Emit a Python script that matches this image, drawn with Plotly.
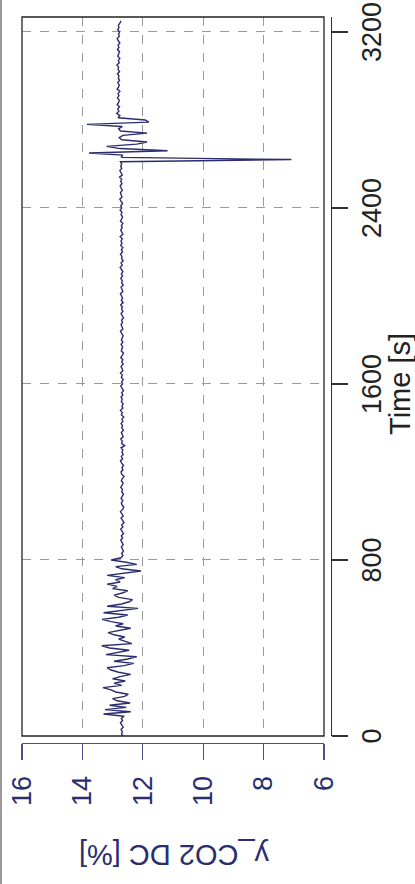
import plotly.graph_objects as go

# ---------------- data ----------------
time_start = 0
time_step = 10  # seconds between samples
co2_values = [
    # 0-90
    12.66, 12.70, 12.68, 12.72, 12.65, 12.69, 12.74, 12.67, 12.71, 12.62,
    # 100-190
    13.30, 12.40, 13.25, 12.55, 13.10, 12.42, 12.85, 13.00, 12.60, 12.48,
    # 200-290
    12.90, 13.05, 13.32, 12.70, 12.95, 12.58, 13.00, 12.75, 12.40, 12.80,
    # 300-390
    13.05, 13.18, 12.62, 12.30, 12.95, 12.50, 12.20, 13.22, 12.85, 12.45,
    # 400-490
    13.10, 13.36, 12.36, 12.55, 12.80, 12.60, 12.95, 13.15, 12.70, 12.40,
    # 500-590
    12.90, 12.65, 13.05, 13.35, 12.80, 12.50, 13.30, 12.65, 12.16, 13.18,
    # 600-690
    12.70, 12.45, 12.34, 12.80, 12.95, 12.68, 12.50, 13.00, 12.85, 13.18,
    # 700-790
    12.75, 12.90, 12.60, 13.18, 12.55, 12.06, 12.70, 12.90, 12.20, 12.55,
    # 800-890
    13.05, 12.72, 12.66, 12.70, 12.64, 12.68, 12.71, 12.65, 12.69, 12.73,
    # 900-990
    12.67, 12.71, 12.64, 12.69, 12.73, 12.66, 12.70, 12.62, 12.68, 12.72,
    # 1000
    12.65, 12.70, 12.74, 12.67, 12.63, 12.69, 12.71, 12.66, 12.72, 12.68,
    # 1100
    12.64, 12.70, 12.67, 12.73, 12.69, 12.65, 12.71, 12.68, 12.62, 12.70,
    # 1200
    12.72, 12.66, 12.69, 12.64, 12.70, 12.74, 12.67, 12.71, 12.65, 12.69,
    # 1300
    12.66, 12.72, 12.60, 12.70, 12.68, 12.73, 12.65, 12.69, 12.71, 12.64,
    # 1400
    12.70, 12.67, 12.72, 12.66, 12.69, 12.63, 12.71, 12.68, 12.74, 12.66,
    # 1500
    12.69, 12.65, 12.71, 12.68, 12.72, 12.66, 12.70, 12.64, 12.69, 12.73,
    # 1600
    12.67, 12.70, 12.65, 12.71, 12.68, 12.74, 12.66, 12.69, 12.72, 12.65,
    # 1700
    12.70, 12.66, 12.73, 12.68, 12.64, 12.71, 12.69, 12.67, 12.72, 12.66,
    # 1800
    12.71, 12.68, 12.65, 12.70, 12.74, 12.66, 12.69, 12.72, 12.67, 12.70,
    # 1900
    12.64, 12.69, 12.72, 12.66, 12.70, 12.68, 12.73, 12.65, 12.71, 12.67,
    # 2000
    12.70, 12.74, 12.66, 12.69, 12.72, 12.65, 12.70, 12.68, 12.73, 12.67,
    # 2100
    12.71, 12.66, 12.70, 12.75, 12.68, 12.72, 12.65, 12.70, 12.69, 12.74,
    # 2200
    12.67, 12.71, 12.66, 12.73, 12.69, 12.72, 12.68, 12.75, 12.66, 12.70,
    # 2300
    12.73, 12.68, 12.71, 12.66, 12.74, 12.70, 12.67, 12.72, 12.69, 12.75,
    # 2400
    12.70, 12.73, 12.67, 12.72, 12.76, 12.69, 12.71, 12.74, 12.68, 12.72,
    # 2500
    12.75, 12.69, 12.73, 12.70, 12.77, 12.68, 12.72, 12.76, 12.70, 12.73,
    # 2600
    12.70, 12.74, 7.08, 12.72, 12.66, 13.78, 11.18, 12.75, 13.20, 12.20,
    # 2700
    11.86, 12.70, 12.78, 12.66, 11.86, 12.74, 12.80, 12.68, 13.85, 11.80,
    # 2800
    11.92, 12.82, 12.76, 12.86, 12.79, 12.83, 12.77, 12.85, 12.80, 12.78,
    # 2900
    12.84, 12.79, 12.82, 12.76, 12.85, 12.80, 12.78, 12.83, 12.77, 12.81,
    # 3000
    12.79, 12.84, 12.77, 12.82, 12.80, 12.86, 12.78, 12.81, 12.76, 12.83,
    # 3100
    12.80, 12.77, 12.84, 12.79, 12.82, 12.76, 12.81, 12.85, 12.78, 12.80,
    # 3200
    12.77, 12.83, 12.79, 12.81, 12.76, 12.72,
]
time_values = [time_start + i * time_step for i in range(len(co2_values))]

co2_ticks = [16, 14, 12, 10, 8, 6]
time_ticks = [0, 800, 1600, 2400, 3200]
co2_title = "y_CO2 DC [%]"
time_title = "Time [s]"

# ---------------- style ----------------
W, H = 415, 884
ML, MR, MT, MB = 22, 84, 17, 141
plot_w = W - ML - MR   # 309
plot_h = H - MT - MB   # 726
x_dom_end = 302 / plot_w
y_dom_start = 7 / plot_h

navy = "#2b2e6e"
axis_navy = "#4b4f8c"
font_family = "Liberation Sans, Arial, Helvetica, sans-serif"

fig = go.Figure()
fig.add_trace(go.Scatter(
    x=co2_values, y=time_values, mode="lines",
    line=dict(color=navy, width=1.4), showlegend=False, hoverinfo="skip",
))

fig.update_layout(
    width=W, height=H,
    margin=dict(l=ML, r=MR, t=MT, b=MB, pad=0, autoexpand=False),
    paper_bgcolor="white", plot_bgcolor="white",
    font=dict(family=font_family),
    xaxis=dict(
        range=[16, 6], domain=[0, x_dom_end], anchor="free", position=0,
        automargin=False, ticklabeloverflow="allow",
        tickvals=co2_ticks, ticktext=[str(v) for v in co2_ticks],
        tickangle=-90, ticks="outside", ticklen=16, tickwidth=1.2, tickcolor=axis_navy,
        showline=True, linecolor=axis_navy, linewidth=1.2,
        tickfont=dict(size=27, color=navy, family=font_family),
        ticklabelstandoff=5,
        showgrid=True, gridcolor="#9a9a9a", griddash="dash", gridwidth=1,
        zeroline=False,
    ),
    yaxis=dict(
        range=[0, 3268], domain=[y_dom_start, 1], anchor="free", position=1, side="right",
        automargin=False, ticklabeloverflow="allow",
        tickvals=time_ticks, ticktext=[str(v) for v in time_ticks],
        tickangle=-90, ticks="outside", ticklen=16, tickwidth=1.2, tickcolor="#333333",
        showline=True, linecolor="#333333", linewidth=1.2,
        tickfont=dict(size=27, color="#222222", family=font_family),
        ticklabelshift=4,
        showgrid=True, gridcolor="#9a9a9a", griddash="dash", gridwidth=1,
        zeroline=False,
    ),
    shapes=[
        dict(type="rect", xref="paper", yref="paper", x0=0, x1=x_dom_end,
             y0=y_dom_start, y1=1, line=dict(color="#222222", width=1.3),
             fillcolor="rgba(0,0,0,0)", layer="above"),
        dict(type="line", xref="paper", yref="paper", x0=-21 / plot_w, x1=-21 / plot_w,
             y0=-MB / plot_h, y1=1 + MT / plot_h, line=dict(color="#9a9a9a", width=2)),
    ],
    annotations=[
        dict(text=time_title, xref="paper", yref="y", x=(400 - ML) / plot_w, y=1600,
             textangle=-90, showarrow=False, xanchor="center", yanchor="middle",
             font=dict(size=29, color="#222222", family=font_family)),
        dict(text=co2_title, xref="x", yref="paper", x=10.95, y=(743 - 855) / plot_h,
             textangle=180, showarrow=False, xanchor="center", yanchor="middle",
             font=dict(size=29, color=navy, family=font_family)),
    ],
)

fig.write_html(
    "out.html",
    config={"displayModeBar": False, "staticPlot": True},
    post_script="document.body.style.margin='0';document.body.style.overflow='hidden';",
)
